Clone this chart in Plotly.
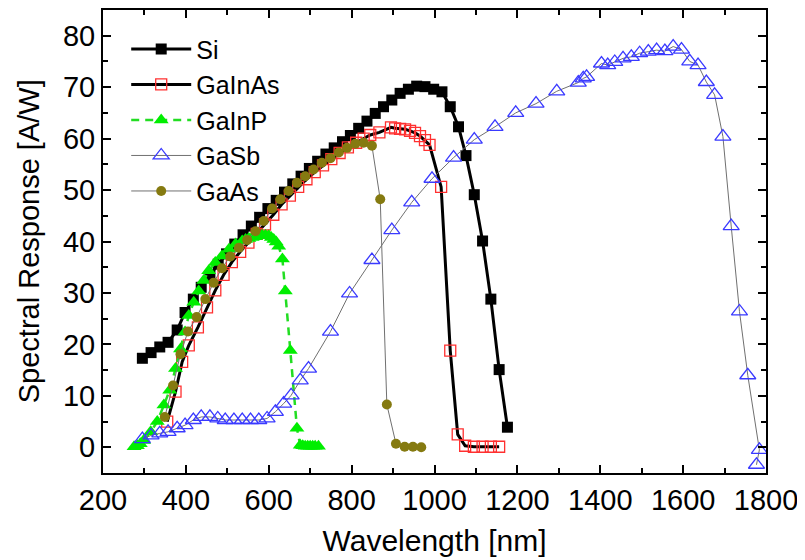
import plotly.graph_objects as go

# ---------------- data ----------------
si_x = [295, 316, 337, 357, 379, 398, 418, 437, 458, 478, 498, 518, 538, 558, 578, 598,
        618, 638, 658, 678, 698, 718, 738, 758, 778, 797, 817, 837, 857, 877, 897, 917,
        937, 957, 977, 998, 1018, 1038, 1058, 1076, 1096, 1116, 1136, 1156, 1176]
si_y = [17.3, 18.4, 19.5, 20.4, 22.8, 26.2, 28.8, 31.1, 33.4, 35.6, 37.6, 39.5, 41.3, 43.0,
        44.7, 46.4, 48.0, 49.6, 51.2, 52.7, 54.2, 55.6, 57.0, 58.2, 59.4, 60.6, 62.0, 63.4,
        64.9, 66.2, 67.5, 68.8, 69.6, 70.2, 70.1, 69.6, 69.1, 66.2, 62.3, 56.7, 49.1, 40.1,
        28.8, 15.1, 3.9]

gainas_x = [355, 375, 391, 407, 429, 451, 471, 491, 511, 531, 551, 571, 591, 611, 631, 651,
            671, 691, 711, 731, 751, 771, 791, 811, 829, 845, 867, 895, 905, 917, 929, 941,
            953, 965, 977, 988, 1016, 1038, 1056, 1074, 1095, 1116, 1136, 1156]
gainas_y = [5.0, 10.8, 16.6, 19.8, 23.3, 27.2, 30.5, 33.5, 36.0, 38.0, 39.8, 41.5, 43.3, 45.2,
            47.2, 48.9, 50.6, 52.1, 53.5, 54.8, 56.0, 57.2, 58.3, 59.2, 60.0, 60.7, 61.2, 62.2,
            62.0, 61.9, 61.8, 61.5, 61.1, 60.5, 59.7, 58.8, 50.6, 18.8, 2.5, 0.3, 0.1, 0.1,
            0.1, 0.1]

gainp_x = [275, 283, 290, 298, 315, 331, 347, 361, 375, 387, 398, 407, 419, 431, 443, 455,
           471, 487, 504, 520, 536, 544, 552, 560, 568, 576, 584, 592, 600, 606, 612, 618,
           624, 633, 640, 652, 668, 676, 682, 688, 694, 700, 706, 712, 720]
gainp_y = [0.1, 0.3, 0.7, 1.3, 3.0, 5.0, 8.2, 11.1, 15.3, 19.1, 22.4, 25.6, 28.2, 30.4, 32.4,
           34.3, 35.9, 37.2, 38.5, 39.5, 40.1, 40.4, 40.6, 40.8, 40.9, 41.1, 41.2, 41.2, 41.1,
           40.8, 40.4, 39.9, 39.1, 36.6, 30.4, 18.8, 3.7, 0.4, 0.3, 0.2, 0.2, 0.2, 0.2, 0.2, 0.2]

gasb_x = [295, 316, 337, 357, 379, 398, 418, 437, 458, 477, 495, 516, 536, 556, 576, 596,
          616, 636, 654, 676, 696, 749, 795, 849, 897, 945, 994, 1046, 1096, 1146, 1196,
          1245, 1295, 1347, 1359, 1367, 1403, 1418, 1435, 1455, 1475, 1495, 1516, 1536,
          1556, 1576, 1596, 1616, 1636, 1656, 1676, 1696, 1716, 1736, 1756, 1784, 1777]
gasb_y = [1.6, 2.3, 2.7, 3.0, 3.7, 4.3, 5.3, 5.9, 5.9, 5.6, 5.3, 5.3, 5.3, 5.3, 5.3, 5.6,
          6.9, 8.5, 10.1, 13.0, 15.3, 22.5, 29.9, 36.4, 42.2, 47.6, 52.2, 56.3, 59.8, 62.3,
          65.0, 66.8, 69.2, 70.9, 71.7, 72.0, 74.6, 74.3, 74.9, 75.6, 75.9, 76.6, 76.9, 77.2,
          77.0, 77.9, 77.3, 75.0, 74.3, 71.0, 68.5, 60.4, 43.0, 26.4, 14.0, -0.5, -3.4]

gaas_x = [349, 369, 387, 405, 426, 447, 467, 487, 507, 528, 548, 568, 588, 608, 628, 648,
          668, 688, 708, 728, 749, 769, 789, 809, 829, 849, 869, 885, 907, 928, 948, 968]
gaas_y = [5.9, 12.0, 18.1, 22.5, 25.3, 28.8, 32.0, 34.8, 37.1, 38.8, 40.3, 42.0, 44.0, 46.4,
          48.2, 49.8, 51.4, 52.7, 54.0, 55.3, 56.2, 57.3, 58.2, 59.0, 59.2, 58.6, 48.2, 8.3,
          0.7, 0.1, 0.1, 0.0]

x_ticks = [200, 400, 600, 800, 1000, 1200, 1400, 1600, 1800]
y_ticks = [0, 10, 20, 30, 40, 50, 60, 70, 80]

FONT = "Arial, Liberation Sans, sans-serif"

# ---------------- figure ----------------
fig = go.Figure()

fig.add_trace(go.Scatter(
    x=si_x, y=si_y, name="Si", mode="lines+markers",
    line=dict(color="black", width=3),
    marker=dict(symbol="square", size=11, color="black", line=dict(width=0))))

fig.add_trace(go.Scatter(
    x=gainas_x, y=gainas_y, name="GaInAs", mode="lines+markers",
    line=dict(color="black", width=3),
    marker=dict(symbol="square-open", size=11, color="#ff3030", line=dict(width=1.3))))

fig.add_trace(go.Scatter(
    x=gainp_x, y=gainp_y, name="GaInP", mode="lines+markers",
    line=dict(color="#22dd22", width=2.5, dash="8px,6px"),
    marker=dict(symbol="triangle-up", size=13, color="#00ee00", line=dict(width=0))))

fig.add_trace(go.Scatter(
    x=gasb_x, y=gasb_y, name="GaSb", mode="lines+markers",
    line=dict(color="#707070", width=1),
    marker=dict(symbol="triangle-up-open", size=14, color="#3a3aff", line=dict(width=1.3))))

fig.add_trace(go.Scatter(
    x=gaas_x, y=gaas_y, name="GaAs", mode="lines+markers",
    line=dict(color="#707070", width=1),
    marker=dict(symbol="circle", size=10, color="#857a10", line=dict(width=0))))

axis_common = dict(
    showline=True, linecolor="black", linewidth=2, mirror="ticks",
    ticks="inside", ticklen=8, tickwidth=2, tickcolor="black",
    showgrid=False, zeroline=False, automargin=False,
    tickfont=dict(family=FONT, size=29, color="black"),
)

fig.update_xaxes(
    range=[200, 1800], tickvals=x_ticks,
    ticktext=[str(v) for v in x_ticks],
    minor=dict(ticks="inside", ticklen=5, tickwidth=2, tickcolor="black", dtick=100, tick0=200),
    title=dict(text="Wavelength [nm]", standoff=15,
               font=dict(family=FONT, size=30, color="black")),
    **axis_common)

fig.update_yaxes(
    range=[-5, 85], tickvals=y_ticks,
    ticktext=[str(v) for v in y_ticks],
    minor=dict(ticks="inside", ticklen=5, tickwidth=2, tickcolor="black", dtick=5, tick0=0),
    **axis_common)

# y-axis title placed as a rotated annotation for exact positioning
fig.add_annotation(
    text="Spectral Response [A/W]", textangle=-90,
    xref="paper", yref="paper", x=-0.112, y=0.5,
    xanchor="center", yanchor="middle", showarrow=False,
    font=dict(family=FONT, size=29, color="black"))

# the page puts the figure 8 px from the top-left corner of the window
fig.update_layout(
    width=797, height=552,
    margin=dict(l=95, r=39, t=2, b=87),
    paper_bgcolor="white", plot_bgcolor="white",
    showlegend=True,
    legend=dict(x=0.035, y=0.965, xanchor="left", yanchor="top",
                bgcolor="rgba(0,0,0,0)", borderwidth=0,
                itemwidth=60, tracegroupgap=0,
                font=dict(family=FONT, size=25, color="black")),
)

fig.write_html("out.html")
